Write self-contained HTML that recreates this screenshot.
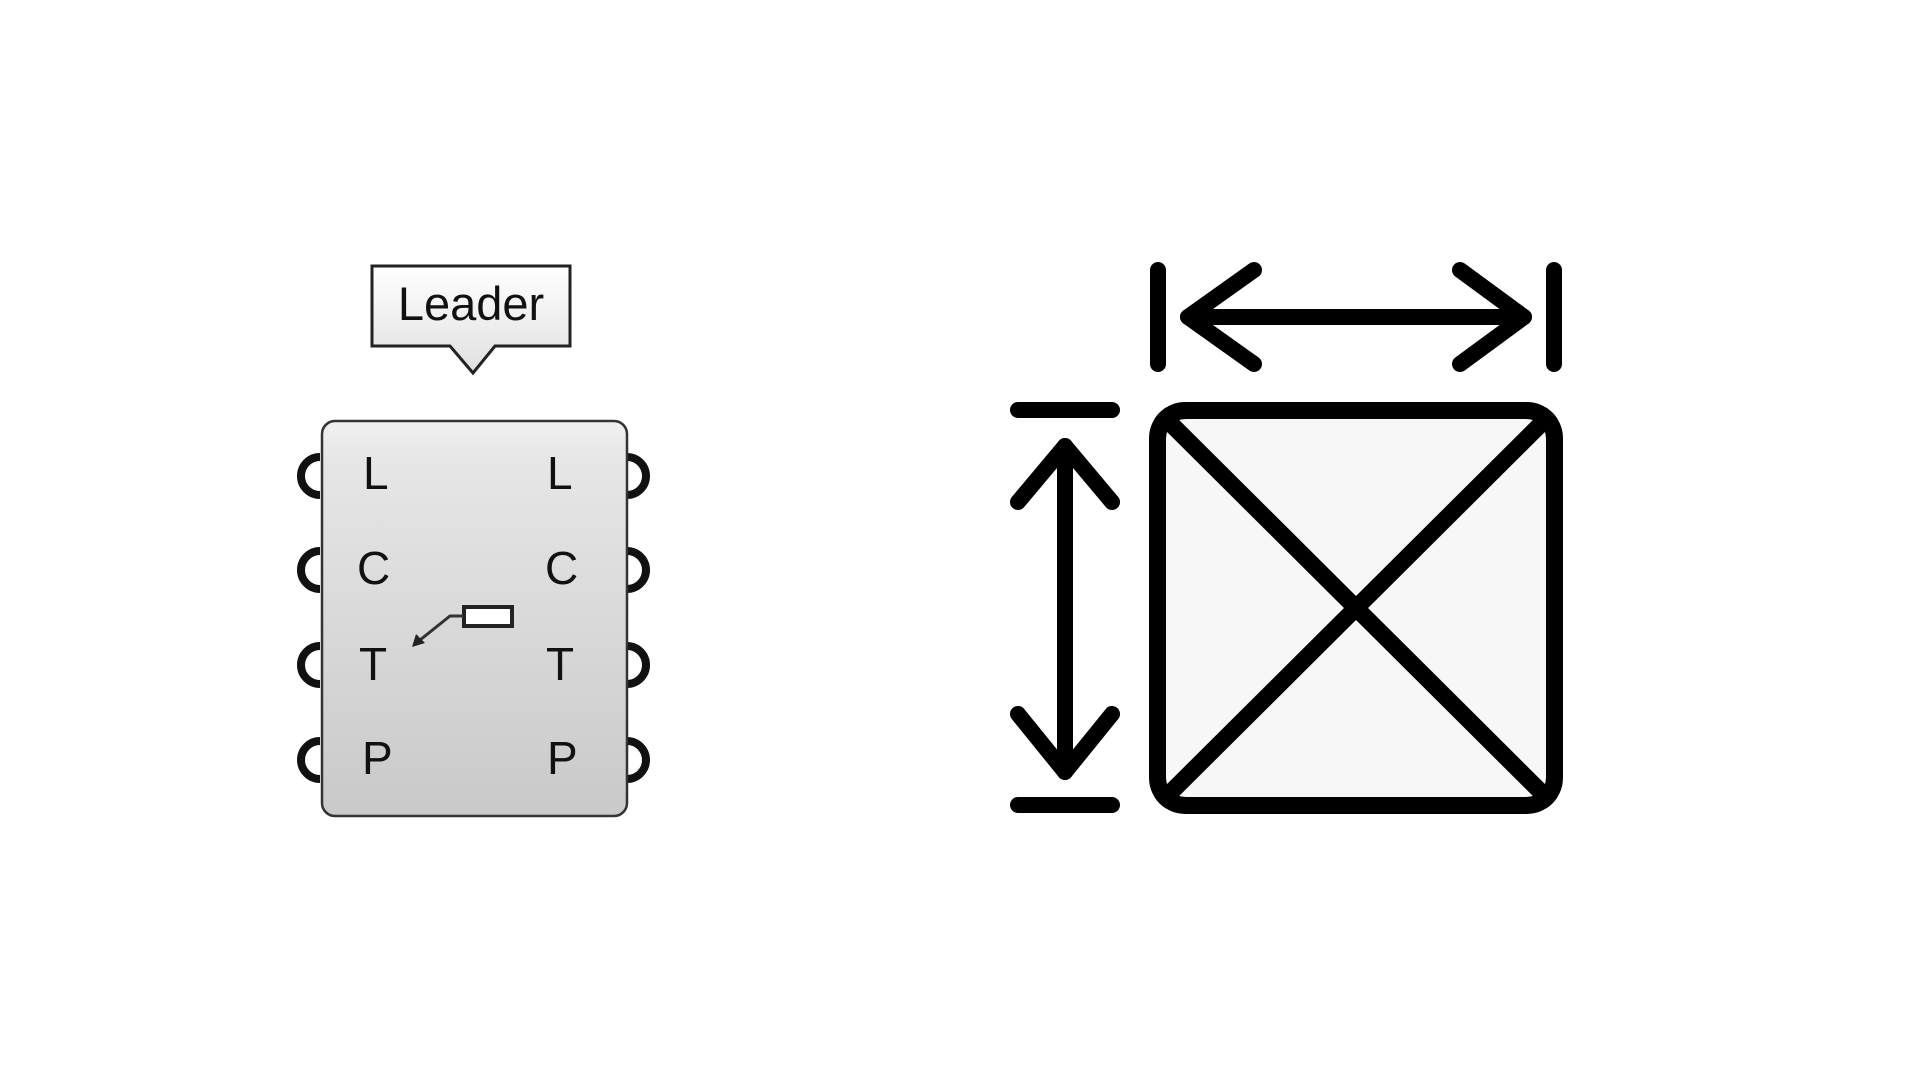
<!DOCTYPE html>
<html><head><meta charset="utf-8"><style>
html,body{margin:0;padding:0;background:#fff;width:1920px;height:1080px;overflow:hidden}
svg{display:block}
</style></head><body>
<svg width="1920" height="1080" viewBox="0 0 1920 1080" xmlns="http://www.w3.org/2000/svg">
<defs>
<linearGradient id="ng" x1="0" y1="0" x2="0" y2="1">
<stop offset="0" stop-color="#f0f0f0"/><stop offset="0.1" stop-color="#e6e6e6"/><stop offset="1" stop-color="#c9c9c9"/>
</linearGradient>
<linearGradient id="lg" x1="0" y1="0" x2="0" y2="1">
<stop offset="0" stop-color="#ffffff"/><stop offset="1" stop-color="#e0e0e0"/>
</linearGradient>
<clipPath id="sq"><rect x="1149" y="402" width="414" height="412" rx="36"/></clipPath>
</defs>
<path d="M372,266 H570 V346 H495 L473,373 L450,346 H372 Z" fill="url(#lg)" stroke="#222" stroke-width="3"/>
<text x="471" y="320" font-family="Liberation Sans, sans-serif" font-size="47" text-anchor="middle" fill="#111">Leader</text>
<g fill="none" stroke="#111" stroke-width="8">
<path d="M320,457 A19,19 0 0 0 320,495"/>
<path d="M320,551 A19,19 0 0 0 320,589"/>
<path d="M320,646 A19,19 0 0 0 320,684"/>
<path d="M320,741 A19,19 0 0 0 320,779"/>
<path d="M627,457 A19,19 0 0 1 627,495"/>
<path d="M627,551 A19,19 0 0 1 627,589"/>
<path d="M627,646 A19,19 0 0 1 627,684"/>
<path d="M627,741 A19,19 0 0 1 627,779"/>
</g>
<rect x="322" y="421" width="305" height="395" rx="13" fill="url(#ng)" stroke="#333" stroke-width="2.5"/>
<g font-family="Liberation Sans, sans-serif" font-size="46" fill="#111">
<text x="363" y="489">L</text><text x="547" y="489">L</text>
<text x="357" y="584">C</text><text x="545" y="584">C</text>
<text x="359" y="680">T</text><text x="546" y="680">T</text>
<text x="362" y="774">P</text><text x="547" y="774">P</text>
</g>
<rect x="464" y="607" width="48" height="19" fill="#fff" stroke="#222" stroke-width="4"/>
<polyline points="463,616 450,616 420,640" fill="none" stroke="#333" stroke-width="3"/>
<polygon points="412,647 416,634 425,643" fill="#222"/>
<rect x="1157.5" y="410.5" width="397" height="395" rx="28" fill="#f7f7f7"/>
<g clip-path="url(#sq)" stroke="#000" stroke-width="17" fill="none">
<line x1="1149" y1="402" x2="1563" y2="814"/>
<line x1="1563" y1="402" x2="1149" y2="814"/>
</g>
<rect x="1157.5" y="410.5" width="397" height="395" rx="28" fill="none" stroke="#000" stroke-width="17"/>
<g stroke="#000" stroke-width="16" stroke-linecap="round" stroke-linejoin="round" fill="none">
<line x1="1158" y1="270" x2="1158" y2="364"/>
<line x1="1554" y1="270" x2="1554" y2="364"/>
<polyline points="1254,270 1188,317 1254,364"/>
<line x1="1188" y1="317" x2="1524" y2="317"/>
<polyline points="1460,270 1524,317 1460,364"/>
<line x1="1018" y1="410" x2="1112" y2="410"/>
<line x1="1018" y1="805" x2="1112" y2="805"/>
<line x1="1065" y1="446" x2="1065" y2="772"/>
<polyline points="1018,502 1065,446 1112,502"/>
<polyline points="1018,714 1065,772 1112,714"/>
</g>
</svg>
</body></html>
